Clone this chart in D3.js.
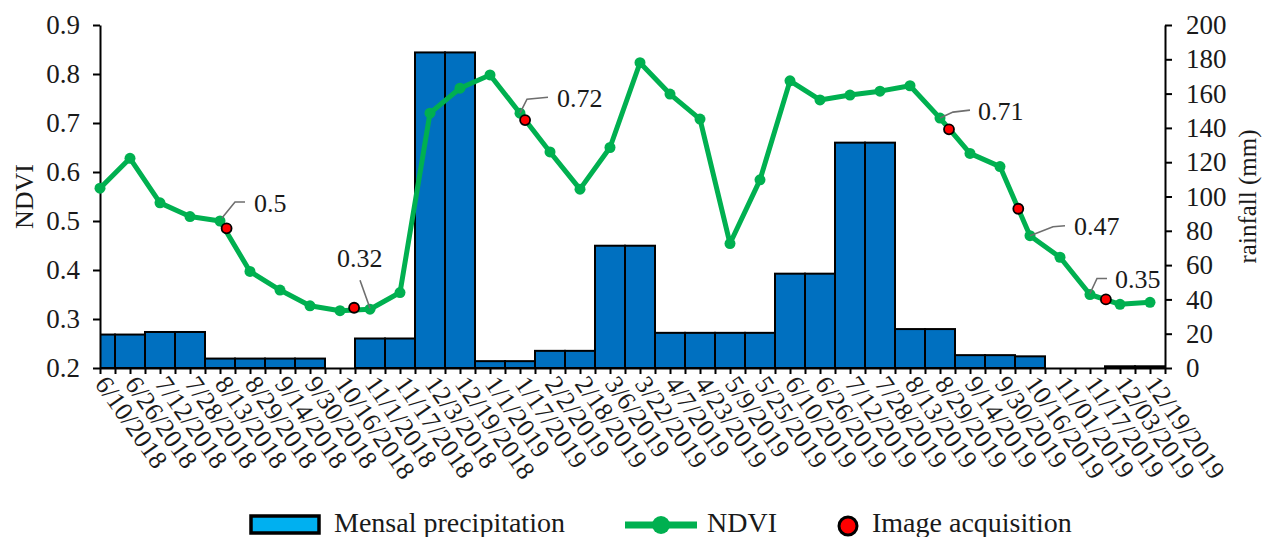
<!DOCTYPE html>
<html>
<head>
<meta charset="utf-8">
<script src="https://cdn.jsdelivr.net/npm/d3@7/dist/d3.min.js"></script>
<style>
  html, body { margin: 0; padding: 0; background: #fff; }
  svg { display: block; font-family: "Liberation Serif", "Times New Roman", serif; }
</style>
</head>
<body>
<svg id="chart" width="1266" height="537"></svg>
<script>
// 16-day composite dates
const dates = [
  "6/10/2018", "6/26/2018", "7/12/2018", "7/28/2018", "8/13/2018", "8/29/2018",
  "9/14/2018", "9/30/2018", "10/16/2018", "11/1/2018", "11/17/2018", "12/3/2018",
  "12/19/2018", "1/1/2019", "1/17/2019", "2/2/2019", "2/18/2019", "3/6/2019",
  "3/22/2019", "4/7/2019", "4/23/2019", "5/9/2019", "5/25/2019", "6/10/2019",
  "6/26/2019", "7/12/2019", "7/28/2019", "8/13/2019", "8/29/2019", "9/14/2019",
  "9/30/2019", "10/16/2019", "11/01/2019", "11/17/2019", "12/03/2019", "12/19/2019"
];

// NDVI per composite date
const ndvi = [
  0.567, 0.628, 0.537, 0.509, 0.50, 0.397, 0.359, 0.327, 0.317, 0.32,
  0.354, 0.72, 0.771, 0.798, 0.72, 0.641, 0.565, 0.65, 0.823, 0.759,
  0.708, 0.454, 0.584, 0.786, 0.747, 0.757, 0.765, 0.776, 0.71, 0.638,
  0.611, 0.47, 0.426, 0.35, 0.33, 0.334
];

// monthly precipitation (mm), repeated for each composite in the month
const rainfall = [
  19.5, 19.5, 21, 21, 5.5, 5.5, 5.5, 5.5, 0, 17.2, 17.2, 184, 184, 4, 4, 10,
  10, 71.3, 71.3, 20.5, 20.5, 20.5, 20.5, 55, 55, 131.4, 131.4, 22.7, 22.7, 7.5,
  7.5, 6.8, 0, 0, 1, 1
];

// image acquisitions: position along the date axis (in composite steps) and NDVI
const acqPos = [4.22, 8.47, 14.17, 28.3, 30.61, 33.53];
const acqNdvi = [0.485, 0.323, 0.706, 0.687, 0.525, 0.34];

// composites whose NDVI is annotated
const labelIdx = [4, 9, 14, 28, 31, 33];

// tick values
const ndviTicks = [0.2, 0.3, 0.4, 0.5, 0.6, 0.7, 0.8, 0.9];
const rainTicks = [0, 20, 40, 60, 80, 100, 120, 140, 160, 180, 200];

// annotation placement: text offset and leader polyline relative to the point
const labelLayout = [
  { dx: 34, dy: -9, leader: [[2, -3], [15, -19], [25, -19]] },
  { dx: -33, dy: -42, leader: [[0, -1], [-10, -29]] },
  { dx: 37, dy: -6, leader: [[0, 0], [7, -14], [28, -16]] },
  { dx: 38, dy: 2, leader: [[0, 0], [13, -6], [30, -8]] },
  { dx: 44, dy: -1, leader: [[0, 0], [23, -9], [35, -10]] },
  { dx: 25, dy: -7, leader: [[0, -1], [7, -16], [17, -16]] }
];

const plotLeft = 100, plotRight = 1165, plotTop = 25, plotBottom = 368;
const textColor = "#1a1a1a";
const svg = d3.select("#chart");

const x = d3.scaleLinear().domain([0, dates.length - 0.5]).range([plotLeft, plotRight]);
const yL = d3.scaleLinear().domain([0.2, 0.9]).range([plotBottom, plotTop]);
const yR = d3.scaleLinear().domain([0, 200]).range([plotBottom, plotTop]);

svg.append("clipPath").attr("id", "plot-clip")
  .append("rect").attr("x", plotLeft).attr("y", 0)
  .attr("width", plotRight - plotLeft).attr("height", plotBottom + 1);

// precipitation bars, centred on each date
svg.append("g").attr("clip-path", "url(#plot-clip)")
  .selectAll("rect").data(rainfall).join("rect")
  .attr("x", (d, i) => x(i - 0.5))
  .attr("width", (d, i) => x(i + 0.5) - x(i - 0.5))
  .attr("y", d => yR(d))
  .attr("height", d => yR(0) - yR(d))
  .attr("fill", "#0070C0")
  .attr("stroke", d => d > 0 ? "#000" : "none")
  .attr("stroke-width", 2);

// axes
const styleAxis = g => {
  g.selectAll(".domain").attr("stroke", "#000").attr("stroke-width", 2);
  g.selectAll(".tick line").attr("stroke", "#000").attr("stroke-width", 2);
  g.selectAll(".tick text").attr("fill", textColor)
    .style("font-size", "27px").style("font-family", "'Liberation Serif', 'Times New Roman', serif");
};

svg.append("g").attr("transform", `translate(${plotLeft},0)`)
  .call(d3.axisLeft(yL).tickValues(ndviTicks).tickFormat(d3.format(".1f"))
    .tickSize(7).tickSizeOuter(0).tickPadding(13))
  .call(styleAxis);

svg.append("g").attr("transform", `translate(${plotRight},0)`)
  .call(d3.axisRight(yR).tickValues(rainTicks).tickSize(7).tickSizeOuter(0).tickPadding(14))
  .call(styleAxis);

svg.append("g").attr("transform", `translate(0,${plotBottom})`)
  .call(d3.axisBottom(x).tickValues(d3.range(0, dates.length, 0.5)).tickFormat("")
    .tickSize(6).tickSizeOuter(0))
  .call(styleAxis);

// rotated date labels
svg.append("g").selectAll("text").data(dates).join("text")
  .attr("transform", (d, i) => `translate(${x(i) - 6},384) rotate(55)`)
  .attr("text-anchor", "start")
  .attr("fill", textColor)
  .style("font-size", "26px")
  .text(d => d);

// axis titles
svg.append("text")
  .attr("transform", `translate(33,${(plotTop + plotBottom) / 2}) rotate(-90)`)
  .attr("text-anchor", "middle").attr("fill", textColor).style("font-size", "26px")
  .text("NDVI");
svg.append("text")
  .attr("transform", `translate(1256,${(plotTop + plotBottom) / 2}) rotate(-90)`)
  .attr("text-anchor", "middle").attr("fill", textColor).style("font-size", "25px")
  .text("rainfall (mm)");

// NDVI line with markers
const green = "#00B050";
svg.append("path").datum(ndvi)
  .attr("d", d3.line().x((d, i) => x(i)).y(d => yL(d)))
  .attr("fill", "none").attr("stroke", green).attr("stroke-width", 5)
  .attr("stroke-linejoin", "round");
svg.append("g").selectAll("circle").data(ndvi).join("circle")
  .attr("cx", (d, i) => x(i)).attr("cy", d => yL(d)).attr("r", 5.5).attr("fill", green);

// annotations: leader lines and values
const ann = svg.append("g");
labelIdx.forEach((idx, k) => {
  const px = x(idx), py = yL(ndvi[idx]);
  const lay = labelLayout[k];
  ann.append("path")
    .attr("d", d3.line()(lay.leader.map(p => [px + p[0], py + p[1]])))
    .attr("fill", "none").attr("stroke", "#6e6e6e").attr("stroke-width", 1.6);
  ann.append("text")
    .attr("x", px + lay.dx).attr("y", py + lay.dy)
    .attr("fill", textColor).style("font-size", "26px")
    .text(String(ndvi[idx]));
});

// image acquisition points
svg.append("g").selectAll("circle").data(acqPos).join("circle")
  .attr("cx", d => x(d)).attr("cy", (d, i) => yL(acqNdvi[i])).attr("r", 5)
  .attr("fill", "#FF0000").attr("stroke", "#000").attr("stroke-width", 1.8);

// legend
const lg = svg.append("g");
const ly = 524;
lg.append("rect").attr("x", 251).attr("y", ly - 8).attr("width", 68).attr("height", 17)
  .attr("fill", "#00B0F0").attr("stroke", "#000").attr("stroke-width", 3.5);
lg.append("text").attr("x", 334).attr("y", ly + 8).attr("fill", textColor)
  .style("font-size", "28px").text("Mensal precipitation");
lg.append("line").attr("x1", 625).attr("x2", 697).attr("y1", ly + 1).attr("y2", ly + 1)
  .attr("stroke", green).attr("stroke-width", 7);
lg.append("circle").attr("cx", 661).attr("cy", ly + 1).attr("r", 9).attr("fill", green);
lg.append("text").attr("x", 707).attr("y", ly + 8).attr("fill", textColor)
  .style("font-size", "28px").text("NDVI");
lg.append("circle").attr("cx", 848).attr("cy", ly + 2).attr("r", 9)
  .attr("fill", "#FF0000").attr("stroke", "#000").attr("stroke-width", 3);
lg.append("text").attr("x", 872).attr("y", ly + 8).attr("fill", textColor)
  .style("font-size", "28px").text("Image acquisition");
</script>
</body>
</html>
